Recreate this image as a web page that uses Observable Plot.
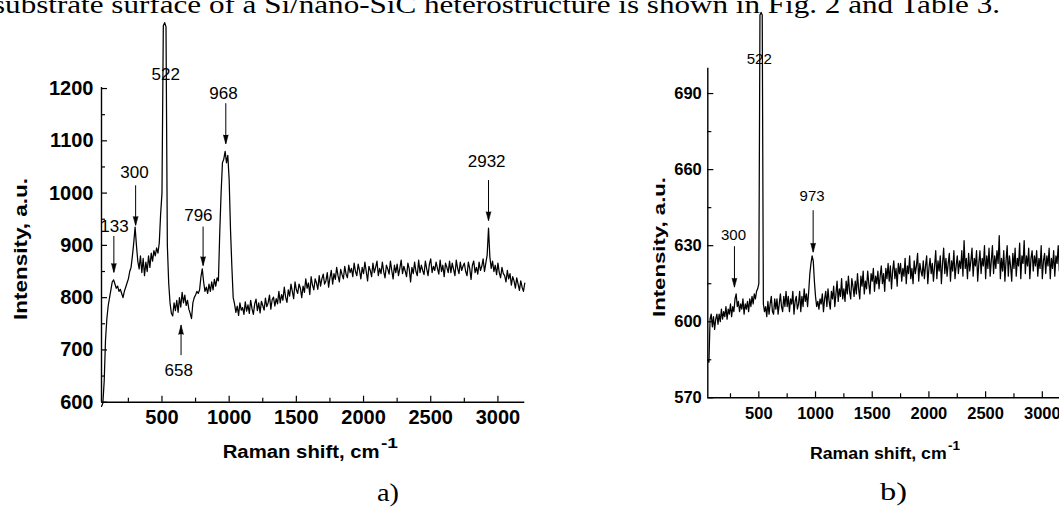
<!DOCTYPE html>
<html>
<head>
<meta charset="utf-8">
<script src="https://cdn.jsdelivr.net/npm/d3@7"></script>
<script src="https://cdn.jsdelivr.net/npm/@observablehq/plot@0.6"></script>
<style>
html, body { margin: 0; padding: 0; overflow: hidden; background: #fff; width: 1059px; height: 507px; }
#wrap { position: relative; width: 1059px; height: 507px; overflow: hidden; background: #fff; }
#wrap > svg { position: absolute; top: 0; max-width: none; }
</style>
</head>
<body>
<div id="wrap"></div>
<script>
// ---------------- DATA ----------------
// Raman shift grid (cm^-1), spectra sampled every 10 cm^-1 from 50 to 3200
const ramanShift = d3.range(50, 3201, 10);

// a) Si/nano-SiC, intensity (a.u.)
const intensityA = [
  592, 598, 640, 720, 760, 785, 800, 815, 830, 834,
  826, 818, 822, 812, 816, 808, 800, 812, 820, 828,
  836, 850, 858, 880, 905, 935, 900, 870, 855, 880,
  848, 875, 842, 868, 850, 880, 858, 885, 870, 890,
  880, 895, 885, 905, 960, 1000, 1320, 1326, 1318, 900,
  828, 790, 770, 765, 790, 775, 795, 772, 800, 782,
  810, 790, 805, 785, 795, 778, 770, 760, 790, 800,
  805, 812, 808, 815, 840, 855, 830, 812, 820, 808,
  826, 812, 830, 815, 835, 822, 838, 832, 925, 1000,
  1058, 1065, 1080, 1058, 1072, 1025, 930, 860, 800, 788,
  772, 784, 766, 790, 776, 781, 768, 792, 774, 786,
  770, 795, 779, 768, 788, 797, 775, 790, 771, 793,
  785, 776, 799, 783, 790, 805, 778, 796, 801, 784,
  798, 788, 812, 790, 806, 795, 820, 801, 791, 815,
  803, 826, 812, 798, 830, 815, 808, 826, 818, 800,
  822, 810, 836, 818, 828, 806, 840, 824, 815, 836,
  828, 816, 842, 822, 836, 845, 826, 832, 848, 820,
  838, 852, 826, 846, 835, 858, 842, 830, 854, 844,
  836, 860, 845, 838, 862, 848, 856, 840, 866, 850,
  842, 864, 852, 836, 858, 846, 868, 850, 832, 860,
  852, 840, 866, 848, 858, 870, 842, 856, 846, 868,
  850, 838, 862, 855, 845, 870, 852, 836, 862, 848,
  864, 842, 856, 872, 846, 860, 851, 840, 866, 855,
  830, 858, 846, 868, 850, 842, 872, 848, 862, 852,
  844, 870, 855, 842, 864, 874, 848, 860, 852, 868,
  856, 845, 872, 850, 862, 840, 866, 858, 848, 870,
  848, 866, 854, 842, 872, 856, 846, 868, 852, 860,
  866, 850, 842, 868, 856, 835, 862, 870, 848, 858,
  845, 868, 852, 860, 874, 850, 866, 882, 933, 878,
  856, 870, 850, 862, 844, 866, 848, 838, 858, 846,
  842, 830, 852, 836, 846, 824, 840, 832, 818, 838,
  826, 814, 832, 820, 812, 828
];

// b) second sample, intensity (a.u.)
const intensityB = [
  585, 584, 601, 603, 598, 602, 597, 601, 603, 599,
  603, 600, 605, 601, 604, 602, 606, 601, 605, 603,
  607, 602, 606, 604, 609, 611, 606, 608, 604, 607,
  605, 609, 603, 607, 605, 608, 604, 609, 606, 610,
  607, 611, 609, 612, 613, 615, 721, 722, 721, 607,
  604, 606, 602, 608, 603, 607, 610, 604, 603, 609,
  605, 609, 603, 607, 611, 606, 604, 610, 606, 612,
  606, 610, 604, 609, 607, 612, 603, 608, 610, 605,
  607, 612, 604, 610, 606, 613, 608, 611, 606, 612,
  619, 623, 626, 624, 616, 610, 606, 608, 605, 609,
  607, 611, 604, 609, 612, 606, 613, 608, 605, 612,
  609, 614, 606, 611, 616, 608, 613, 610, 617, 609,
  613, 608, 616, 611, 618, 612, 609, 617, 614, 610,
  616, 611, 619, 613, 609, 618, 614, 620, 611, 616,
  613, 620, 615, 611, 619, 616, 621, 612, 618, 615,
  620, 613, 618, 622, 615, 619, 612, 621, 617, 623,
  616, 622, 613, 620, 624, 617, 621, 614, 623, 619,
  623, 616, 621, 618, 625, 615, 622, 619, 626, 617,
  621, 615, 624, 619, 622, 627, 616, 623, 620, 618,
  624, 617, 622, 626, 615, 621, 625, 619, 623, 616,
  622, 628, 617, 624, 620, 626, 615, 623, 629, 619,
  625, 618, 623, 627, 616, 624, 620, 628, 617, 622,
  626, 619, 624, 621, 628, 618, 632, 621, 625, 617,
  627, 620, 624, 629, 618, 625, 622, 628, 616, 623,
  628, 619, 625, 622, 630, 617, 626, 621, 629, 618,
  624, 630, 619, 626, 621, 628, 623, 634, 617, 625,
  620, 628, 616, 624, 630, 618, 626, 622, 616, 627,
  621, 629, 618, 625, 622, 631, 617, 626, 623, 632,
  619, 626, 622, 629, 617, 625, 628, 620, 626, 622,
  628, 618, 625, 621, 630, 617, 624, 627, 619, 626,
  622, 629, 617, 625, 621, 628, 618, 626, 623, 630,
  620, 627, 622, 628, 618, 625
];

// axis ticks
const xMajorTicks = [500, 1000, 1500, 2000, 2500, 3000];
const xMinorTicks = [250, 750, 1250, 1750, 2250, 2750];
const yMajorA = [600, 700, 800, 900, 1000, 1100, 1200];
const yMinorA = [650, 750, 850, 950, 1050, 1150];
const yMajorB = [570, 600, 630, 660, 690];
const yMinorB = [585, 615, 645, 675];

// peak annotations, panel a (label at x, baseline y; arrow from tail to tip)
const peakLabelsA = ["133", "300", "522", "968", "796", "658", "2932"];
const peakLabelXA = [147, 296, 528, 958, 771, 625, 2916];
const peakLabelYA = [925, 1028, 1217, 1180, 947, 651, 1049];
const arrowXA    = [142, 304, 975, 806, 642, 2930];
const arrowTailA = [917, 1014, 1171, 935, 689, 1024];
const arrowTipA  = [848, 938, 1094, 861, 747, 947];

// peak annotations, panel b
const peakLabelsB = ["300", "522", "973"];
const peakLabelXB = [277, 504, 970];
const peakLabelYB = [632.4, 701.6, 647.5];
const arrowXB    = [285, 979];
const arrowTailB = [629.6, 643.8];
const arrowTipB  = [613.6, 627.4];

// texts
const pageText = "substrate surface of a Si/nano-SiC heterostructure is shown in Fig. 2 and Table 3.";
const yTitle = "Intensity, a.u.";
const xTitle = "Raman shift, cm";
const xTitleSup = "-1";
const panelTags = ["a)", "b)"];

// ---------------- BUILD ----------------
const SANS = "'Liberation Sans', Arial, Helvetica, sans-serif";
const SERIF = "'Liberation Serif', 'Times New Roman', serif";

const specA = ramanShift.map((s, i) => ({shift: s, intensity: intensityA[i]}));
const specB = ramanShift.map((s, i) => ({shift: s, intensity: intensityB[i]}));
const labA = peakLabelsA.map((t, i) => ({t, x: peakLabelXA[i], y: peakLabelYA[i]}));
const labB = peakLabelsB.map((t, i) => ({t, x: peakLabelXB[i], y: peakLabelYB[i]}));
const arrA = arrowXA.map((x, i) => ({x, tail: arrowTailA[i], tip: arrowTipA[i]}));
const arrB = arrowXB.map((x, i) => ({x, tail: arrowTailB[i], tip: arrowTipB[i]}));

function panel({data, labels, arrows, xDomain, yDomain, yMajor, yMinor, margins, tickFont, padX, padY, labelFont}) {
  return Plot.plot({
    width: 540, height: 507,
    ...margins,
    x: {domain: xDomain},
    y: {domain: yDomain},
    style: {background: "transparent", color: "black", fontFamily: SANS, overflow: "visible"},
    marks: [
      Plot.line(data, {x: "shift", y: "intensity", stroke: "black", strokeWidth: 1.25}),
      Plot.ruleX([xDomain[0]], {stroke: "black", strokeWidth: 1.4}),
      Plot.ruleY([yDomain[0]], {stroke: "black", strokeWidth: 1.4}),
      Plot.axisX({ticks: xMajorTicks, tickSize: -6, fill: "none", label: null, strokeWidth: 1.2}),
      Plot.axisX({ticks: xMinorTicks, tickSize: -4, fill: "none", label: null, strokeWidth: 1.2}),
      Plot.axisX({ticks: xMajorTicks, tickSize: 0, tickPadding: padX, label: null, tickFormat: "d",
                  fontSize: tickFont, fontWeight: "bold"}),
      Plot.axisY({ticks: yMajor, tickSize: -6, fill: "none", label: null, strokeWidth: 1.2}),
      Plot.axisY({ticks: yMinor, tickSize: -4, fill: "none", label: null, strokeWidth: 1.2}),
      Plot.axisY({ticks: yMajor, tickSize: 0, tickPadding: padY, label: null, tickFormat: "d",
                  fontSize: tickFont, fontWeight: "bold"}),
      Plot.ruleX(arrows, {x: "x", y1: "tail", y2: "tip", stroke: "black", strokeWidth: 1}),
      Plot.vector(arrows, {x: "x", y: "tip", rotate: d => d.tip < d.tail ? 180 : 0, length: 9,
                           shape: "spike", anchor: "end", r: 2.4, fill: "black", stroke: "black", strokeWidth: 0.6}),
      Plot.text(labels, {x: "x", y: "y", text: "t", textAnchor: "middle", lineAnchor: "bottom",
                         fontSize: labelFont, fill: "black"})
    ]
  });
}

const plotA = panel({
  data: specA, labels: labA, arrows: arrA,
  xDomain: [50, 3200], yDomain: [600, 1202],
  yMajor: yMajorA, yMinor: yMinorA,
  margins: {marginLeft: 101, marginRight: 15.7, marginTop: 87, marginBottom: 105.3},
  tickFont: 20, padX: 8, padY: 8, labelFont: 17
});
const plotB = panel({
  data: specB, labels: labB, arrows: arrB,
  xDomain: [50, 3200], yDomain: [570, 700],
  yMajor: yMajorB, yMinor: yMinorB,
  margins: {marginLeft: 167.3, marginRight: 15.5, marginTop: 67.7, marginBottom: 109.7},
  tickFont: 16.5, padX: 9, padY: 6, labelFont: 15
});

const wrap = document.getElementById("wrap");
plotA.style.left = "0px";
plotB.style.left = "540px";
wrap.appendChild(plotA);
wrap.appendChild(plotB);

// overlay texts: page line, axis titles, panel tags
const over = d3.select(wrap).append("svg")
  .attr("width", 1059).attr("height", 507)
  .style("left", "0px").style("pointer-events", "none");

function txt(str, x, y, o = {}) {
  const t = over.append("text")
    .attr("x", x).attr("y", y)
    .attr("font-family", o.family || SANS)
    .attr("font-size", o.size || 16)
    .attr("font-weight", o.weight || "normal")
    .attr("text-anchor", o.anchor || "start")
    .attr("fill", "black")
    .text(str);
  if (o.len) t.attr("textLength", o.len).attr("lengthAdjust", "spacingAndGlyphs");
  if (o.rotate) t.attr("transform", `rotate(${o.rotate},${x},${y})`);
  return t;
}

// running text of the page above the figure (cut at top)
txt(pageText, -7, 13, {family: SERIF, size: 25, len: 1007});

// panel a titles
txt(yTitle, 26.5, 249, {size: 19, weight: "bold", anchor: "middle", len: 142, rotate: -90});
txt(xTitle, 222.7, 458, {size: 18, weight: "bold", len: 157});
txt(xTitleSup, 381, 448, {size: 14, weight: "bold", len: 17});
txt(panelTags[0], 377, 501, {family: SERIF, size: 26, len: 22});

// panel b titles
txt(yTitle, 665, 247, {size: 17, weight: "bold", anchor: "middle", len: 140, rotate: -90});
txt(xTitle, 810, 459, {size: 16, weight: "bold", len: 136.7});
txt(xTitleSup, 948, 450, {size: 13, weight: "bold", len: 12});
txt(panelTags[1], 880, 500, {family: SERIF, size: 26, len: 27});
</script>
</body>
</html>
